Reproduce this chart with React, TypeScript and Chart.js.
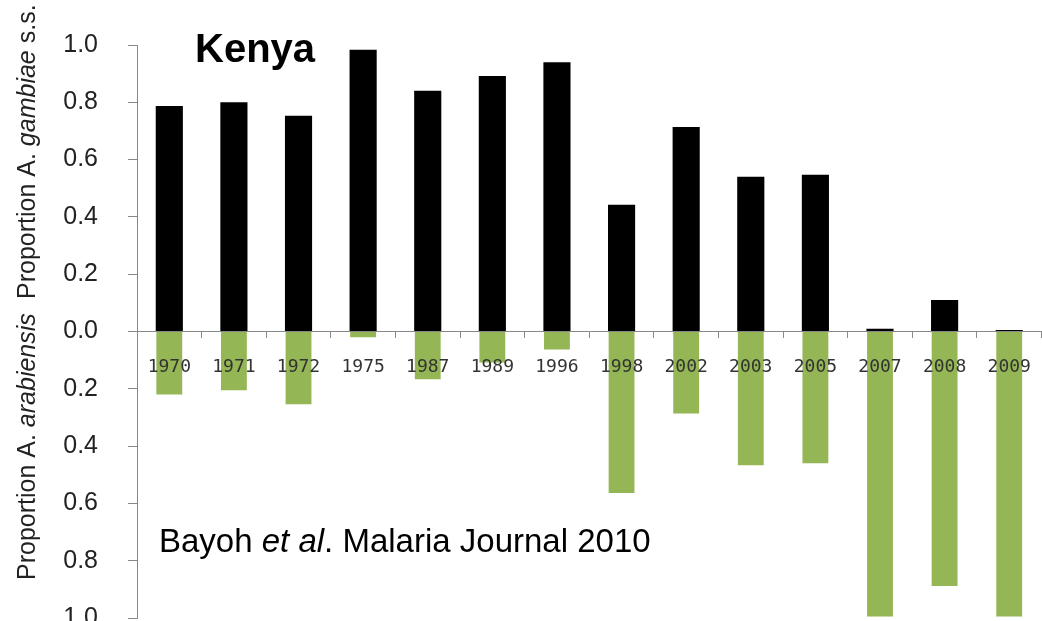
import React, { useEffect, useRef } from 'react';
import { Chart, registerables } from 'chart.js';
Chart.register(...registerables);

const years = ['1970', '1971', '1972', '1975', '1987', '1989', '1996', '1998', '2002', '2003', '2005', '2007', '2008', '2009'];
const gambiae = [0.787, 0.8, 0.753, 0.983, 0.84, 0.892, 0.94, 0.442, 0.714, 0.54, 0.547, 0.01, 0.11, 0.005];
const arabiensis = [0.22, 0.205, 0.254, 0.02, 0.167, 0.108, 0.063, 0.564, 0.286, 0.467, 0.46, 0.995, 0.888, 0.995];

const titleLower = [
  { t: 'Proportion ', i: false },
  { t: 'A. ', i: false },
  { t: 'arabiensis', i: true },
];
const titleUpper = [
  { t: 'Proportion ', i: false },
  { t: 'A. ', i: false },
  { t: 'gambiae', i: true },
  { t: ' s.s.', i: false },
];
const credit = [
  { t: 'Bayoh ', i: false },
  { t: 'et al', i: true },
  { t: '. Malaria Journal 2010', i: false },
];

const FONT = '"Liberation Sans", Arial, sans-serif';

function drawSegs(ctx: CanvasRenderingContext2D, segs: { t: string; i: boolean }[], x: number, y: number, size: number, weight = 'normal') {
  let cx = x;
  for (const s of segs) {
    ctx.font = `${s.i ? 'italic ' : ''}${weight} ${size}px ${FONT}`;
    ctx.fillText(s.t, cx, y);
    cx += ctx.measureText(s.t).width;
  }
}

const textPlugin = {
  id: 'texts',
  afterDraw(chart: any) {
    const ctx: CanvasRenderingContext2D = chart.ctx;
    ctx.save();
    ctx.fillStyle = '#000';
    ctx.textAlign = 'left';
    ctx.textBaseline = 'alphabetic';
    ctx.font = `bold 40px ${FONT}`;
    ctx.fillText('Kenya', 195, 62);
    drawSegs(ctx, credit, 159, 552, 33);
    ctx.fillStyle = '#222';
    ctx.textBaseline = 'middle';
    ctx.save();
    ctx.translate(28, 580);
    ctx.rotate(-Math.PI / 2);
    drawSegs(ctx, titleLower, 0, 0, 25);
    ctx.restore();
    ctx.save();
    ctx.translate(28, 299);
    ctx.rotate(-Math.PI / 2);
    drawSegs(ctx, titleUpper, 0, 0, 25);
    ctx.restore();
    ctx.restore();
  },
};

export default function App() {
  const ref = useRef<HTMLCanvasElement>(null);
  useEffect(() => {
    if (!ref.current) return;
    const chart = new Chart(ref.current, {
      type: 'bar',
      data: {
        labels: years,
        datasets: [
          { label: 'gambiae', data: gambiae, backgroundColor: '#000000', barPercentage: 0.42, categoryPercentage: 1 },
          { label: 'arabiensis', data: arabiensis.map((v) => -v), backgroundColor: '#94b654', barPercentage: 0.4, categoryPercentage: 1 },
        ],
      },
      options: {
        responsive: false,
        animation: false,
        events: [],
        layout: { padding: { top: 35, bottom: 0, left: 0, right: 3 } },
        plugins: { legend: { display: false }, tooltip: { enabled: false }, title: { display: false } },
        scales: {
          x: {
            stacked: true,
            position: { y: 0 } as any,
            offset: true,
            grid: { offset: true, drawOnChartArea: false, drawTicks: true, tickLength: 6, color: '#888', z: 1 } as any,
            border: { color: '#888', width: 1, z: 1 } as any,
            ticks: { z: 1, color: '#333', padding: 19, maxRotation: 0, autoSkip: false, font: { family: '"DejaVu Sans Mono", monospace', size: 18 } } as any,
          },
          y: {
            stacked: true,
            min: -1,
            max: 1,
            afterFit: (s: any) => { s.width = 137; },
            grid: { drawOnChartArea: false, drawTicks: true, tickLength: 9, color: '#888' },
            border: { color: '#888', width: 1 },
            ticks: {
              stepSize: 0.2,
              padding: 30,
              color: '#222',
              font: { family: FONT, size: 25 },
              callback: (v: any) => Math.abs(Number(v)).toFixed(1),
            },
          },
        },
      },
      plugins: [textPlugin],
    });
    return () => chart.destroy();
  }, []);
  return (
    <div style={{ position: 'fixed', left: 0, top: 0, width: 1050, height: 663, background: '#fff' }}>
      <canvas ref={ref} width={1050} height={663} style={{ width: 1050, height: 663 }} />
    </div>
  );
}
